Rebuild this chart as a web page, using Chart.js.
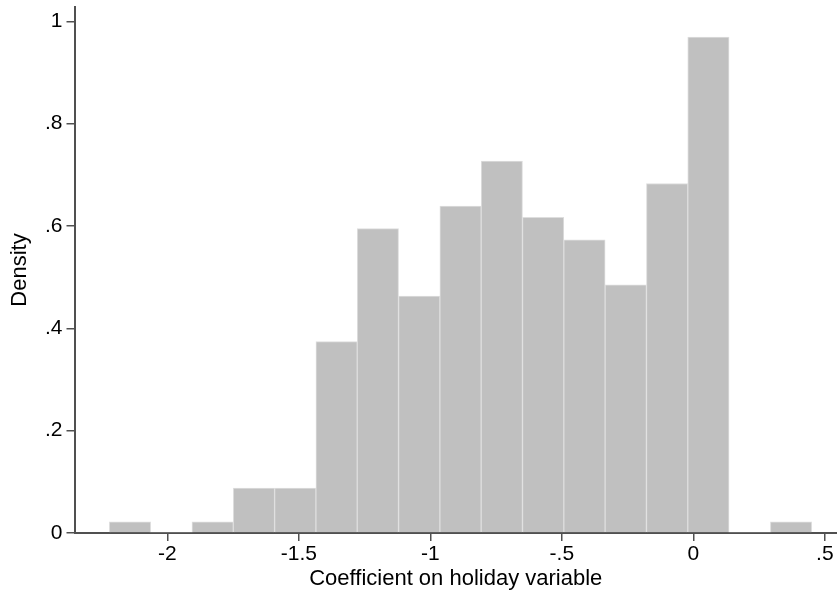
<!DOCTYPE html>
<html>
<head>
<meta charset="utf-8">
<script src="https://cdn.jsdelivr.net/npm/chart.js"></script>
<style>
  html, body { margin: 0; padding: 0; background: #fff; }
  #wrap { width: 837px; height: 593px; }
</style>
</head>
<body>
<div id="wrap"><canvas id="myChart" width="837" height="593"></canvas></div>
<script>
// histogram bins
const binStart = -2.2205;
const binWidth = 0.1571;
const densities = [0.022, 0, 0.022, 0.088, 0.088, 0.374, 0.595, 0.463, 0.639, 0.727, 0.617, 0.573, 0.485, 0.683, 0.969, 0, 0.022];

const xTicks = [-2, -1.5, -1, -0.5, 0, 0.5];
const xTickLabels = ['-2', '-1.5', '-1', '-.5', '0', '.5'];
const yTicks = [0, 0.2, 0.4, 0.6, 0.8, 1];
const yTickLabels = ['0', '.2', '.4', '.6', '.8', '1'];

const xTitle = 'Coefficient on holiday variable';
const yTitle = 'Density';

const family = '"Liberation Sans", Arial, Helvetica, sans-serif';
const tickFont = { family: family, size: 21 };
const titleFont = { family: family, size: 22 };
const axisColor = '#505050';

const points = densities.map((d, i) => ({ x: binStart + (i + 0.5) * binWidth, y: d }));

const ctx = document.getElementById('myChart').getContext('2d');
const myChart = new Chart(ctx, {
    type: 'bar',
    data: {
        datasets: [{
            data: points,
            backgroundColor: '#c0c0c0',
            borderColor: '#dedede',
            borderWidth: (c) => (c.raw && c.raw.y > 0 ? 1 : 0),
            barPercentage: 1,
            categoryPercentage: 1
        }]
    },
    options: {
        responsive: false,
        animation: false,
        layout: { padding: { top: 7, right: 0, left: 0, bottom: 0 } },
        plugins: { legend: { display: false }, tooltip: { enabled: false } },
        scales: {
            x: {
                type: 'linear',
                offset: false,
                min: -2.353,
                max: 0.5464,
                afterBuildTicks: (s) => { s.ticks = xTicks.map(v => ({ value: v })); },
                afterFit: (s) => { s.height = 60; s.paddingLeft = 0; s.paddingRight = 0; },
                ticks: {
                    color: '#000',
                    font: tickFont,
                    padding: 1,
                    maxRotation: 0,
                    autoSkip: false,
                    callback: (v) => xTickLabels[xTicks.indexOf(v)]
                },
                grid: { drawOnChartArea: false, offset: false, tickLength: 8, color: axisColor, lineWidth: 1.5 },
                border: { color: axisColor, width: 2 },
                title: { display: true, text: xTitle, color: '#000', font: titleFont, padding: { top: 0, bottom: 1 } }
            },
            y: {
                min: 0,
                max: 1.028,
                afterBuildTicks: (s) => { s.ticks = yTicks.map(v => ({ value: v })); },
                afterFit: (s) => { s.width = 74.5; s.paddingTop = 0; s.paddingBottom = 0; },
                ticks: {
                    color: '#000',
                    font: tickFont,
                    padding: 4,
                    callback: (v) => yTickLabels[yTicks.indexOf(v)]
                },
                grid: { drawOnChartArea: false, tickLength: 8, color: axisColor, lineWidth: 1.5 },
                border: { color: axisColor, width: 2 },
                title: { display: true, text: yTitle, color: '#000', font: titleFont, padding: { top: 7, bottom: 0 } }
            }
        }
    }
});
</script>
</body>
</html>
